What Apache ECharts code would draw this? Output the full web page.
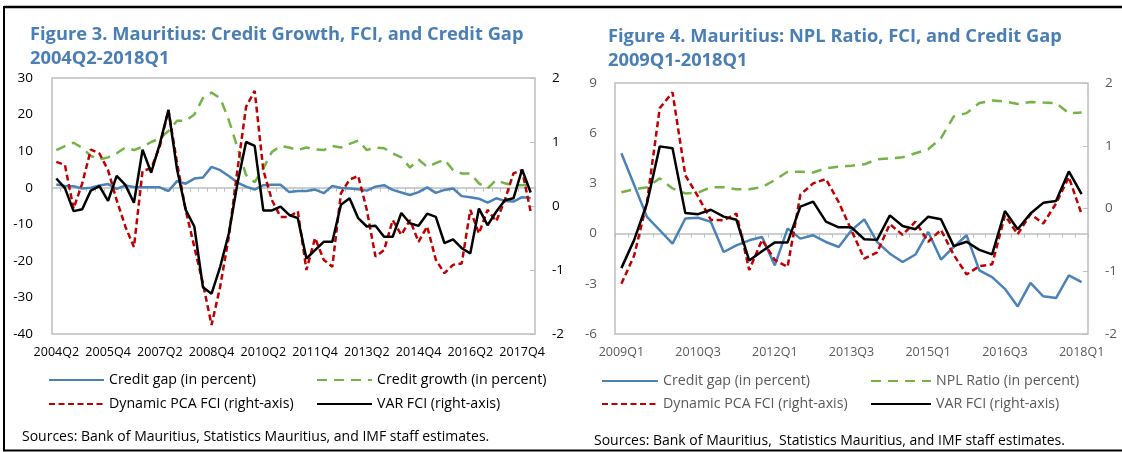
<!DOCTYPE html>
<html>
<head>
<meta charset="utf-8">
<script src="https://cdn.jsdelivr.net/npm/echarts@6/dist/echarts.min.js"></script>
<style>
  html, body { margin: 0; padding: 0; background: #fff; }
  #chart { width: 1122px; height: 452px; }
</style>
</head>
<body>
<div id="chart"></div>
<script>
// Quarter labels for a range such as 2004Q2 .. 2018Q1
function quarterRange(startYear, startQ, endYear, endQ) {
  const out = [];
  let y = startYear, q = startQ;
  while (y < endYear || (y === endYear && q <= endQ)) {
    out.push(y + 'Q' + q);
    q++;
    if (q > 4) { q = 1; y++; }
  }
  return out;
}

// ---- Figure 3: credit growth, FCI and credit gap (2004Q2-2018Q1) ----
const quarters3 = quarterRange(2004, 2, 2018, 1);
const creditGap3 = [0.9, 0.5, 0.4, -0.2, 0.0, 0.6, 1.0, -0.3, 0.6, 0.2, 0.1, 0.1, 0.1, -0.9, 1.8, 1.1, 2.5, 2.8, 5.7, 4.8, 3.2, 1.4, 0.3, -0.5, 0.7, 0.8, 0.8, -1.2, -0.9, -0.9, -0.5, -1.5, 0.5, -0.1, -0.2, -0.4, -0.8, 0.3, 0.7, -0.6, -1.3, -2.0, -1.2, 0.1, -1.4, -0.6, -0.2, -2.3, -2.6, -3.0, -4.1, -2.9, -3.6, -3.8, -2.6, -2.8];
const creditGrowth3 = [10.3, 11.4, 12.3, 10.9, 8.7, 7.7, 8.3, 9.4, 11.0, 10.3, 11.2, 12.5, 13.5, 15.5, 18.3, 18.3, 20.0, 24.5, 26.0, 24.5, 18.5, 11.0, 3.5, 1.5, 5.3, 9.8, 11.4, 11.0, 10.3, 11.0, 10.5, 10.3, 11.4, 11.0, 12.0, 12.9, 10.3, 11.0, 10.8, 9.4, 8.3, 5.5, 7.7, 5.7, 6.7, 7.7, 4.8, 3.9, 3.9, 1.2, -0.2, 2.1, 1.2, 0.7, 0.7, 1.0];
const pcaFci3 = [0.69, 0.64, -0.04, 0.35, 0.88, 0.82, 0.56, 0.09, -0.32, -0.64, 0.55, 0.59, 0.93, 1.5, 0.67, -0.06, -0.64, -1.21, -1.86, -1.26, -0.48, 0.56, 1.55, 1.8, 0.56, 0.09, -0.17, -0.17, -0.08, -1.0, -0.5, -0.84, -0.95, 0.2, 0.41, 0.47, -0.06, -0.79, -0.69, -0.22, -0.45, -0.22, -0.56, -0.32, -0.84, -1.05, -0.92, -0.9, -0.06, -0.43, -0.06, -0.24, 0.09, 0.51, 0.56, -0.09];
const varFci3 = [0.43, 0.28, -0.08, -0.05, 0.24, 0.31, 0.08, 0.47, 0.33, 0.05, 0.88, 0.52, 0.97, 1.5, 0.57, -0.06, -0.32, -1.27, -1.37, -0.95, -0.43, 0.35, 1.0, 0.94, -0.07, -0.07, -0.01, -0.14, -0.19, -0.82, -0.69, -0.56, -0.56, 0.02, 0.12, -0.19, -0.32, -0.31, -0.48, -0.48, -0.11, -0.27, -0.31, -0.12, -0.17, -0.58, -0.52, -0.66, -0.74, -0.04, -0.3, -0.09, 0.09, 0.12, 0.57, 0.21];

// ---- Figure 4: NPL ratio, FCI and credit gap (2009Q1-2018Q1) ----
const quarters4 = quarterRange(2009, 1, 2018, 1);
const creditGap4 = [4.8, 2.9, 1.0, 0.2, -0.6, 0.9, 0.95, 0.7, -1.1, -0.7, -0.4, -0.2, -1.9, 0.3, -0.3, -0.1, -0.5, -0.8, 0.2, 0.85, -0.5, -1.2, -1.7, -1.25, 0.1, -1.55, -0.8, -0.1, -2.2, -2.6, -3.3, -4.35, -2.95, -3.75, -3.85, -2.5, -2.9];
const nplRatio4 = [2.47, 2.65, 2.77, 3.3, 2.7, 2.4, 2.45, 2.77, 2.77, 2.65, 2.65, 2.77, 3.2, 3.7, 3.7, 3.65, 3.9, 4.0, 4.06, 4.14, 4.44, 4.5, 4.56, 4.8, 5.04, 5.7, 7.0, 7.2, 7.8, 7.95, 7.9, 7.75, 7.87, 7.83, 7.8, 7.2, 7.23];
const pcaFci4 = [-1.2, -0.75, 0.1, 1.6, 1.85, 0.53, 0.19, -0.18, -0.19, -0.08, -0.98, -0.5, -0.82, -0.93, 0.22, 0.4, 0.47, 0.1, -0.35, -0.8, -0.7, -0.25, -0.42, -0.21, -0.53, -0.34, -0.74, -1.05, -0.92, -0.89, -0.11, -0.41, -0.09, -0.24, 0.08, 0.5, -0.09];
const varFci4 = [-0.95, -0.5, 0.08, 0.99, 0.96, -0.07, -0.09, -0.02, -0.13, -0.18, -0.83, -0.68, -0.54, -0.54, 0.03, 0.11, -0.21, -0.3, -0.3, -0.49, -0.5, -0.11, -0.28, -0.33, -0.13, -0.17, -0.6, -0.53, -0.66, -0.73, -0.04, -0.33, -0.08, 0.09, 0.12, 0.59, 0.23];

// Axis ranges and tick steps
const leftAxis3 = { min: -40, max: 30, step: 10 };
const leftAxis4 = { min: -6, max: 9, step: 3 };
const fciAxis = { min: -2, max: 2, step: 1 };

const FONT = '"Open Sans", "Noto Sans", sans-serif';
const BLUE = '#4b82b8';
const GREEN = '#74b447';
const RED = '#c00000';
const BLACK = '#000000';
const TITLE_BLUE = '#4a7fb5';
const GREY_TEXT = '#595959';
const FRAME_GREY = '#bfbfbf';

const NAMES3 = ['Credit gap (in percent)', 'Credit growth (in percent)', 'Dynamic PCA FCI (right-axis)', 'VAR FCI (right-axis)'];
const NAMES4 = ['Credit gap (in percent) ', 'NPL Ratio (in percent)', 'Dynamic PCA FCI (right-axis) ', 'VAR FCI (right-axis) '];

function lineSeries(name, data, xi, yi, color, type, z) {
  return {
    type: 'line', name, data, xAxisIndex: xi, yAxisIndex: yi,
    symbol: 'none', smooth: false, z,
    lineStyle: { color, width: 2.5, type },
    itemStyle: { color },
    emphasis: { disabled: true },
    animation: false
  };
}

// One legend entry per component so each can sit at its own spot;
// the item style is hidden so only the line sample is drawn.
function legendItem(name, x, y, color, width) {
  return {
    data: [name], left: x, top: y, padding: 0, itemGap: 0,
    itemWidth: width, itemHeight: 12, selectedMode: false,
    itemStyle: { opacity: 0, color: 'rgba(0,0,0,0)', borderWidth: 0 },
    textStyle: { fontFamily: FONT, fontSize: 14.2, color }
  };
}

function valueAxis(gi, pos, range, labelColor, margin, showTick) {
  return {
    type: 'value', gridIndex: gi, position: pos,
    min: range.min, max: range.max, interval: range.step,
    axisLine: { show: false },
    axisTick: { show: showTick, inside: true, length: 5, lineStyle: { color: FRAME_GREY } },
    splitLine: { show: false },
    axisLabel: { color: labelColor, fontFamily: FONT, fontSize: 13.5, margin }
  };
}

function labelAxis(gi, cats, color) {
  return {
    type: 'category', gridIndex: gi, data: cats, position: 'bottom',
    axisLine: { show: false }, axisTick: { show: false },
    axisLabel: { interval: 5, color, fontFamily: FONT, fontSize: 12.5, margin: 12 }
  };
}

function zeroAxis(gi, cats, yi) {
  return {
    type: 'category', gridIndex: gi, data: cats,
    axisLine: { show: true, onZero: true, onZeroAxisIndex: yi, lineStyle: { color: FRAME_GREY, width: 1.5 } },
    axisTick: { show: true, inside: true, length: 4, interval: 0, lineStyle: { color: FRAME_GREY } },
    axisLabel: { show: false }
  };
}

const option = {
  backgroundColor: '#ffffff',
  animation: false,
  title: [
    { text: 'Figure 3. Mauritius: Credit Growth, FCI, and Credit Gap\n2004Q2-2018Q1', left: 30, top: 23, padding: 0,
      textStyle: { fontFamily: FONT, fontSize: 18.3, fontWeight: 'bold', color: TITLE_BLUE, lineHeight: 24 } },
    { text: 'Figure 4. Mauritius: NPL Ratio, FCI, and Credit Gap\n2009Q1-2018Q1', left: 608, top: 25, padding: 0,
      textStyle: { fontFamily: FONT, fontSize: 18.3, fontWeight: 'bold', color: TITLE_BLUE, lineHeight: 24 } },
    { text: 'Sources: Bank of Mauritius, Statistics Mauritius, and IMF staff estimates.', left: 22, top: 430, padding: 0,
      textStyle: { fontFamily: FONT, fontSize: 14, fontWeight: 'normal', color: '#000' } },
    { text: 'Sources: Bank of Mauritius,  Statistics Mauritius, and IMF staff estimates.', left: 594, top: 434, padding: 0,
      textStyle: { fontFamily: FONT, fontSize: 14, fontWeight: 'normal', color: '#000' } }
  ],
  grid: [
    { left: 52, top: 78, width: 483, height: 256, show: true, borderColor: FRAME_GREY, borderWidth: 1.5, backgroundColor: 'transparent' },
    { left: 615, top: 83, width: 473, height: 251, show: true, borderColor: FRAME_GREY, borderWidth: 1.5, backgroundColor: 'transparent' }
  ],
  xAxis: [
    labelAxis(0, quarters3, '#000'),
    zeroAxis(0, quarters3, 0),
    labelAxis(1, quarters4, GREY_TEXT),
    zeroAxis(1, quarters4, 2)
  ],
  yAxis: [
    valueAxis(0, 'left', leftAxis3, '#000', 19, false),
    valueAxis(0, 'right', fciAxis, '#000', 17, true),
    valueAxis(1, 'left', leftAxis4, GREY_TEXT, 18, false),
    valueAxis(1, 'right', fciAxis, GREY_TEXT, 17, true)
  ],
  legend: [
    legendItem(NAMES3[0], 48, 373, '#000', 55),
    legendItem(NAMES3[1], 316, 373, '#000', 55),
    legendItem(NAMES3[2], 48, 397, '#000', 55),
    legendItem(NAMES3[3], 316, 397, '#000', 55),
    legendItem(NAMES4[0], 601, 374, GREY_TEXT, 56),
    legendItem(NAMES4[1], 870, 374, GREY_TEXT, 60),
    legendItem(NAMES4[2], 601, 397, GREY_TEXT, 56),
    legendItem(NAMES4[3], 870, 397, GREY_TEXT, 60)
  ],
  series: [
    lineSeries(NAMES3[0], creditGap3, 0, 0, BLUE, 'solid', 2),
    lineSeries(NAMES3[1], creditGrowth3, 0, 0, GREEN, [10, 7], 2),
    lineSeries(NAMES3[2], pcaFci3, 0, 1, RED, [6, 3.5], 3),
    lineSeries(NAMES3[3], varFci3, 0, 1, BLACK, 'solid', 4),
    lineSeries(NAMES4[0], creditGap4, 2, 2, BLUE, 'solid', 2),
    lineSeries(NAMES4[1], nplRatio4, 2, 2, GREEN, [10, 7], 2),
    lineSeries(NAMES4[2], pcaFci4, 2, 3, RED, [6, 3.5], 3),
    lineSeries(NAMES4[3], varFci4, 2, 3, BLACK, 'solid', 4)
  ],
  graphic: [
    { type: 'line', shape: { x1: 4, y1: 7, x2: 1122, y2: 7 }, style: { stroke: '#000', lineWidth: 2.5 }, silent: true },
    { type: 'line', shape: { x1: 4, y1: 6, x2: 4, y2: 451 }, style: { stroke: '#000', lineWidth: 2 }, silent: true },
    { type: 'line', shape: { x1: 3, y1: 450.5, x2: 1122, y2: 450.5 }, style: { stroke: '#000', lineWidth: 2 }, silent: true }
  ]
};

const chart = echarts.init(document.getElementById('chart'), null, { renderer: 'canvas' });
chart.setOption(option);
</script>
</body>
</html>
